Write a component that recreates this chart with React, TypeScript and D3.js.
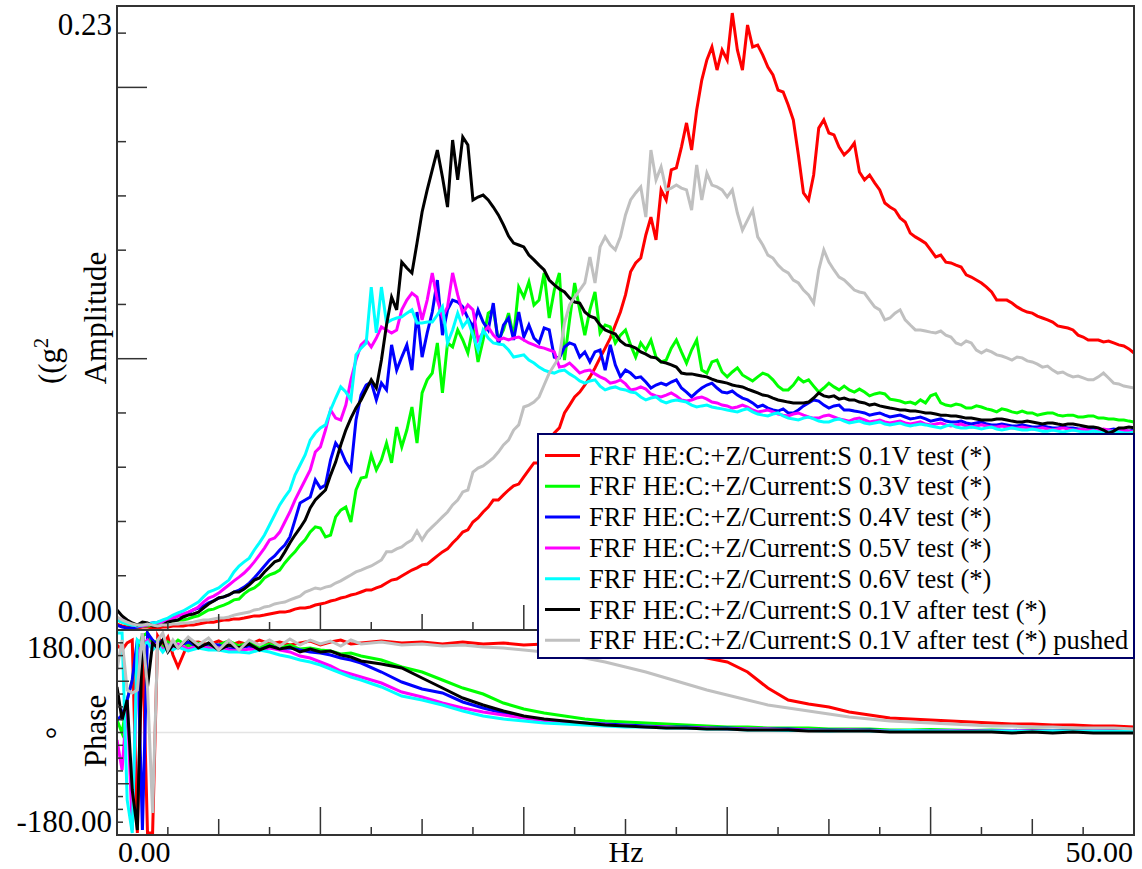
import React, { useEffect, useRef } from 'react';
import * as d3 from 'd3';

// frequency grids (Hz)
const freqAmp = d3.range(0, 50.125, 0.25);
const freqPhase = [0, 0.25, 0.5, 0.75, 1, 1.25, 1.5, 1.75, 2, 2.25, 2.5, 2.75, 3]
  .concat(d3.range(3.5, 12.25, 0.5))
  .concat(d3.range(13, 51, 1));

const seriesNames = [
  'FRF HE:C:+Z/Current:S 0.1V test (*)',
  'FRF HE:C:+Z/Current:S 0.3V test (*)',
  'FRF HE:C:+Z/Current:S 0.4V test (*)',
  'FRF HE:C:+Z/Current:S 0.5V test (*)',
  'FRF HE:C:+Z/Current:S 0.6V test (*)',
  'FRF HE:C:+Z/Current:S 0.1V after test (*)',
  'FRF HE:C:+Z/Current:S 0.1V after test (*) pushed',
];
const seriesColors = ['#ff0000', '#00ff00', '#0000ff', '#ff00ff', '#00ffff', '#000000', '#c0c0c0'];

// amplitude, one value every 0.25 Hz (each row = 2 Hz)
const ampRed = [
  0.0022, 0.0015, 0.0011, 0.0007, 0.0007, 0.0011, 0.0011, 0.0007,
  0.0007, 0.0011, 0.0011, 0.0015, 0.0015, 0.0015, 0.0018, 0.0018,
  0.0022, 0.0026, 0.0029, 0.0029, 0.0033, 0.0037, 0.0037, 0.0041,
  0.0041, 0.0044, 0.0048, 0.0052, 0.0052, 0.0055, 0.0059, 0.0063,
  0.0066, 0.0066, 0.007, 0.0077, 0.0081, 0.0081, 0.0085, 0.0092,
  0.0096, 0.01, 0.0107, 0.0111, 0.0118, 0.0122, 0.0129, 0.0133,
  0.014, 0.0147, 0.0147, 0.0155, 0.0162, 0.0173, 0.0184, 0.0188,
  0.0199, 0.021, 0.0221, 0.0229, 0.024, 0.0243, 0.0258, 0.0273,
  0.0288, 0.0299, 0.0321, 0.0339, 0.0361, 0.0369, 0.0398, 0.0413,
  0.0435, 0.0453, 0.0479, 0.0479, 0.0498, 0.0516, 0.0531, 0.0538,
  0.0564, 0.059, 0.0616, 0.0616, 0.0641, 0.07, 0.0726, 0.0745,
  0.08, 0.0829, 0.0859, 0.0877, 0.0903, 0.0933, 0.0966, 0.1003,
  0.1039, 0.1076, 0.1124, 0.1172, 0.1235, 0.132, 0.1353, 0.1371,
  0.1456, 0.1522, 0.1438, 0.1622, 0.1585, 0.1696, 0.1703, 0.178,
  0.1869, 0.1769, 0.1917, 0.2027, 0.2101, 0.2149, 0.2064, 0.2138,
  0.2101, 0.2274, 0.2138, 0.2064, 0.223, 0.2149, 0.2156, 0.2119,
  0.2075, 0.2046, 0.199, 0.1983, 0.1935, 0.188, 0.1751, 0.1611,
  0.1585, 0.1677, 0.185, 0.188, 0.1832, 0.1825, 0.178, 0.1751,
  0.1769, 0.1795, 0.1688, 0.1659, 0.1677, 0.1648, 0.1622, 0.1574,
  0.1559, 0.1548, 0.1519, 0.1504, 0.1463, 0.1449, 0.1438, 0.1426,
  0.1401, 0.1375, 0.1382, 0.1356, 0.1353, 0.1345, 0.1338, 0.1309,
  0.1301, 0.129, 0.1279, 0.1264, 0.1246, 0.1216, 0.1216, 0.1216,
  0.1205, 0.1191, 0.118, 0.1172, 0.1168, 0.1157, 0.115, 0.1143,
  0.1135, 0.1121, 0.1117, 0.1113, 0.1106, 0.1087, 0.108, 0.1069,
  0.1069, 0.1069, 0.1062, 0.1065, 0.1058, 0.1051, 0.1047, 0.1036,
  0.1021,
];
const ampGreen = [
  0.0037, 0.0029, 0.0022, 0.0015, 0.0011, 0.0015, 0.0015, 0.0018,
  0.0018, 0.0026, 0.0029, 0.0033, 0.0037, 0.0037, 0.0041, 0.0048,
  0.0052, 0.0063, 0.0074, 0.0077, 0.0085, 0.0092, 0.01, 0.0111,
  0.0114, 0.0133, 0.0147, 0.0155, 0.017, 0.0192, 0.0203, 0.021,
  0.0221, 0.0247, 0.0269, 0.0288, 0.0313, 0.0332, 0.0361, 0.038,
  0.0376, 0.0343, 0.035, 0.0417, 0.0442, 0.0453, 0.0398, 0.0516,
  0.056, 0.0564, 0.0645, 0.059, 0.0627, 0.0689, 0.0616, 0.0748,
  0.0675, 0.0737, 0.0822, 0.0689, 0.0874, 0.0922, 0.0947, 0.1058,
  0.0874, 0.1058, 0.1043, 0.1106, 0.1069, 0.1021, 0.1117, 0.0988,
  0.1069, 0.1168, 0.118, 0.1069, 0.1106, 0.1168, 0.108, 0.1264,
  0.1227, 0.1283, 0.1198, 0.1216, 0.1316, 0.115, 0.1253, 0.1316,
  0.0995, 0.1143, 0.1279, 0.118, 0.1087, 0.118, 0.1246, 0.1095,
  0.1124, 0.1117, 0.1058, 0.1087, 0.1106, 0.1051, 0.1006, 0.1058,
  0.1032, 0.1069, 0.1006, 0.0988, 0.0995, 0.1039, 0.1069, 0.1025,
  0.0984, 0.1032, 0.1069, 0.0958, 0.0947, 0.0988, 0.0995, 0.0951,
  0.0933, 0.0951, 0.0966, 0.094, 0.0929, 0.0918, 0.0933, 0.0947,
  0.094, 0.0922, 0.0899, 0.0885, 0.0885, 0.0903, 0.0929, 0.0914,
  0.0922, 0.0899, 0.0877, 0.0892, 0.091, 0.0896, 0.0885, 0.0899,
  0.0885, 0.0877, 0.0888, 0.0877, 0.0863, 0.087, 0.0874, 0.087,
  0.0851, 0.0848, 0.0844, 0.0837, 0.084, 0.0833, 0.0848, 0.0837,
  0.0863, 0.087, 0.0837, 0.0829, 0.0826, 0.0833, 0.0829, 0.0818,
  0.0818, 0.0826, 0.0822, 0.0815, 0.0811, 0.0804, 0.0815, 0.0811,
  0.0804, 0.08, 0.0807, 0.08, 0.08, 0.0792, 0.0796, 0.08,
  0.08, 0.0792, 0.0789, 0.0792, 0.0792, 0.0785, 0.0785, 0.0789,
  0.0789, 0.0781, 0.0781, 0.0778, 0.0778, 0.0774, 0.0774, 0.077,
  0.0767,
];
const ampBlue = [
  0.0018, 0.0011, 0.0007, 0.0007, 0.0011, 0.0015, 0.0022, 0.0026,
  0.0029, 0.0033, 0.0037, 0.0044, 0.0052, 0.0055, 0.0063, 0.0074,
  0.0081, 0.0088, 0.01, 0.0107, 0.0118, 0.0122, 0.0129, 0.014,
  0.0147, 0.0158, 0.0173, 0.0192, 0.0214, 0.0236, 0.0258, 0.0273,
  0.0295, 0.0313, 0.0343, 0.0405, 0.0468, 0.0479, 0.049, 0.0553,
  0.0523, 0.0534, 0.0627, 0.0689, 0.0663, 0.0619, 0.059, 0.0774,
  0.0866, 0.0903, 0.0914, 0.0848, 0.091, 0.0885, 0.1051, 0.0958,
  0.1006, 0.1051, 0.0958, 0.1172, 0.1006, 0.1095, 0.1172, 0.129,
  0.1087, 0.118, 0.1216, 0.1209, 0.1191, 0.115, 0.1117, 0.118,
  0.1135, 0.1106, 0.1205, 0.1051, 0.1124, 0.115, 0.1069, 0.1172,
  0.108, 0.1124, 0.1076, 0.1058, 0.1113, 0.1106, 0.1006, 0.1003,
  0.1043, 0.1058, 0.1051, 0.1006, 0.1025, 0.0988, 0.1025, 0.1032,
  0.0958, 0.1051, 0.0977, 0.0933, 0.0958, 0.0947, 0.0929, 0.0933,
  0.0914, 0.0892, 0.0903, 0.091, 0.0903, 0.0914, 0.0922, 0.0892,
  0.0877, 0.0859, 0.0877, 0.0892, 0.0903, 0.091, 0.0892, 0.0877,
  0.0874, 0.0881, 0.0866, 0.0855, 0.0848, 0.0837, 0.0822, 0.0829,
  0.0818, 0.0811, 0.0807, 0.0815, 0.08, 0.08, 0.0811, 0.0826,
  0.0837, 0.0848, 0.0844, 0.0829, 0.0818, 0.0826, 0.0829, 0.0811,
  0.0811, 0.0807, 0.0804, 0.08, 0.0792, 0.0796, 0.08, 0.0792,
  0.0785, 0.0789, 0.0792, 0.0785, 0.0778, 0.0781, 0.0785, 0.0778,
  0.077, 0.0774, 0.0778, 0.077, 0.0767, 0.0767, 0.077, 0.0763,
  0.0759, 0.0763, 0.0767, 0.0759, 0.0756, 0.0756, 0.0759, 0.0756,
  0.0752, 0.0752, 0.0756, 0.0752, 0.0748, 0.0748, 0.0752, 0.0748,
  0.0745, 0.0745, 0.0748, 0.0745, 0.0745, 0.0741, 0.0741, 0.0745,
  0.0745, 0.0741, 0.0737, 0.0737, 0.0741, 0.0737, 0.0737, 0.0733,
  0.0737,
];
const ampMagenta = [
  0.0044, 0.0037, 0.0029, 0.0018, 0.0015, 0.0015, 0.0018, 0.0022,
  0.0026, 0.0029, 0.0037, 0.0044, 0.0052, 0.0059, 0.0066, 0.0074,
  0.0085, 0.0103, 0.0118, 0.0125, 0.0136, 0.0151, 0.0166, 0.0181,
  0.0195, 0.021, 0.0229, 0.0251, 0.0276, 0.0302, 0.0332, 0.0339,
  0.0361, 0.0398, 0.0435, 0.0479, 0.0516, 0.0553, 0.059, 0.0656,
  0.0675, 0.0737, 0.0811, 0.0781, 0.0774, 0.0829, 0.0922, 0.0995,
  0.1051, 0.1069, 0.1043, 0.1076, 0.1117, 0.1106, 0.1095, 0.1106,
  0.118, 0.1216, 0.1242, 0.1227, 0.1143, 0.1216, 0.1316, 0.1216,
  0.1154, 0.1191, 0.1316, 0.1235, 0.1168, 0.1198, 0.118, 0.1069,
  0.1098, 0.1117, 0.1087, 0.1069, 0.1076, 0.1069, 0.1076, 0.108,
  0.1069, 0.1058, 0.1051, 0.1043, 0.1039, 0.1032, 0.1025, 0.0969,
  0.0973, 0.0984, 0.0966, 0.0947, 0.0955, 0.0958, 0.0944, 0.0933,
  0.0925, 0.091, 0.0914, 0.0922, 0.0907, 0.0885, 0.0888, 0.0896,
  0.0888, 0.087, 0.0863, 0.0859, 0.0866, 0.0874, 0.0863, 0.0848,
  0.0844, 0.0848, 0.0855, 0.0859, 0.0851, 0.084, 0.0837, 0.0829,
  0.0826, 0.0818, 0.0822, 0.0829, 0.0822, 0.0811, 0.0804, 0.0807,
  0.0811, 0.0804, 0.0796, 0.0792, 0.0789, 0.0796, 0.08, 0.0792,
  0.0785, 0.0781, 0.0781, 0.0789, 0.0792, 0.0785, 0.0778, 0.0774,
  0.077, 0.0778, 0.0781, 0.0774, 0.0767, 0.077, 0.0774, 0.0767,
  0.0763, 0.0767, 0.077, 0.0763, 0.0759, 0.0763, 0.0767, 0.0759,
  0.0756, 0.0759, 0.0763, 0.0756, 0.0752, 0.0756, 0.0759, 0.0752,
  0.0748, 0.0752, 0.0756, 0.0752, 0.0748, 0.0748, 0.0752, 0.0748,
  0.0745, 0.0745, 0.0748, 0.0745, 0.0741, 0.0741, 0.0745, 0.0741,
  0.0737, 0.0741, 0.0745, 0.0741, 0.0737, 0.0737, 0.0741, 0.0737,
  0.0733, 0.0737, 0.0741, 0.0737, 0.0733, 0.0733, 0.0737, 0.0733,
  0.0733,
];
const ampCyan = [
  0.0037, 0.0029, 0.0022, 0.0018, 0.0015, 0.0018, 0.0022, 0.0026,
  0.0029, 0.0037, 0.0044, 0.0055, 0.0063, 0.007, 0.0081, 0.0092,
  0.0103, 0.0122, 0.014, 0.0147, 0.0155, 0.017, 0.0184, 0.0214,
  0.0236, 0.0251, 0.0265, 0.0295, 0.0321, 0.035, 0.0387, 0.0424,
  0.0461, 0.049, 0.0516, 0.0571, 0.0608, 0.0645, 0.07, 0.0726,
  0.0745, 0.0756, 0.0811, 0.0855, 0.0896, 0.0877, 0.0848, 0.1014,
  0.1039, 0.1058, 0.1264, 0.1095, 0.1264, 0.1132, 0.1143, 0.115,
  0.1154, 0.1168, 0.118, 0.1132, 0.1132, 0.1135, 0.1135, 0.1161,
  0.1191, 0.1058, 0.1106, 0.1168, 0.1117, 0.1143, 0.1087, 0.1032,
  0.1106, 0.1076, 0.1058, 0.1054, 0.1051, 0.1032, 0.1006, 0.101,
  0.1014, 0.0995, 0.0984, 0.0969, 0.0958, 0.0951, 0.0947, 0.0955,
  0.0958, 0.0944, 0.0933, 0.0918, 0.091, 0.0918, 0.0922, 0.0899,
  0.0885, 0.0892, 0.0896, 0.0888, 0.0885, 0.0877, 0.0874, 0.0859,
  0.0848, 0.0855, 0.0859, 0.0844, 0.0837, 0.0844, 0.0848, 0.0844,
  0.084, 0.0829, 0.0822, 0.0826, 0.0829, 0.0822, 0.0818, 0.0815,
  0.0811, 0.0807, 0.0804, 0.0811, 0.0815, 0.0804, 0.0796, 0.0792,
  0.0789, 0.0796, 0.08, 0.0789, 0.0781, 0.0778, 0.0774, 0.0781,
  0.0785, 0.0778, 0.077, 0.0767, 0.0767, 0.0774, 0.0778, 0.077,
  0.0763, 0.0767, 0.077, 0.0763, 0.0759, 0.0763, 0.0767, 0.0759,
  0.0756, 0.0759, 0.0763, 0.0756, 0.0752, 0.0756, 0.0759, 0.0756,
  0.0752, 0.0748, 0.0745, 0.0752, 0.0756, 0.0748, 0.0745, 0.0745,
  0.0748, 0.0745, 0.0741, 0.0745, 0.0748, 0.0741, 0.0737, 0.0741,
  0.0745, 0.0741, 0.0737, 0.0737, 0.0741, 0.0737, 0.0733, 0.0733,
  0.0737, 0.0733, 0.073, 0.0733, 0.0737, 0.0733, 0.073, 0.073,
  0.0733, 0.073, 0.0726, 0.073, 0.0733, 0.073, 0.0726, 0.0726,
  0.073,
];
const ampBlack = [
  0.0074, 0.0052, 0.0037, 0.0026, 0.0018, 0.0029, 0.0026, 0.0015,
  0.0015, 0.0018, 0.0029, 0.0033, 0.0037, 0.0048, 0.0055, 0.0059,
  0.0066, 0.0081, 0.0096, 0.0107, 0.0118, 0.0122, 0.0129, 0.014,
  0.014, 0.0151, 0.0166, 0.0184, 0.0192, 0.0214, 0.0232, 0.0251,
  0.0258, 0.0288, 0.0321, 0.035, 0.0376, 0.0405, 0.045, 0.0479,
  0.0498, 0.0516, 0.0571, 0.0619, 0.0682, 0.0737, 0.0781, 0.0818,
  0.0848, 0.0885, 0.0922, 0.0892, 0.0995, 0.1124, 0.1227, 0.118,
  0.1356, 0.1334, 0.1316, 0.1426, 0.1541, 0.1622, 0.1696, 0.1769,
  0.167, 0.1559, 0.1806, 0.1659, 0.1817, 0.1788, 0.1585, 0.1596,
  0.1603, 0.1585, 0.1559, 0.153, 0.1493, 0.1452, 0.1426, 0.1419,
  0.1412, 0.1382, 0.1364, 0.1345, 0.1327, 0.129, 0.1272, 0.1257,
  0.1246, 0.1224, 0.1209, 0.1205, 0.1172, 0.1157, 0.115, 0.1124,
  0.1106, 0.1098, 0.1091, 0.1065, 0.1051, 0.1047, 0.1039, 0.1025,
  0.1017, 0.1006, 0.1003, 0.0988, 0.0984, 0.0977, 0.0969, 0.0947,
  0.0944, 0.0944, 0.094, 0.0936, 0.0933, 0.0925, 0.0918, 0.0914,
  0.091, 0.0903, 0.0899, 0.0896, 0.0888, 0.0881, 0.0874, 0.0866,
  0.0863, 0.0855, 0.0848, 0.0844, 0.084, 0.0837, 0.0837, 0.0837,
  0.084, 0.0855, 0.0874, 0.0863, 0.0859, 0.0863, 0.0851, 0.0855,
  0.0848, 0.0848, 0.084, 0.0837, 0.0829, 0.0833, 0.0826, 0.0822,
  0.0818, 0.0815, 0.0811, 0.0811, 0.0807, 0.0807, 0.0804, 0.08,
  0.08, 0.0796, 0.0792, 0.0792, 0.0789, 0.0789, 0.0785, 0.0781,
  0.0781, 0.0778, 0.0774, 0.0774, 0.0774, 0.0778, 0.0778, 0.0774,
  0.077, 0.0767, 0.0767, 0.077, 0.0767, 0.0763, 0.0759, 0.0763,
  0.0763, 0.0759, 0.0756, 0.0759, 0.0759, 0.0756, 0.0752, 0.0748,
  0.0748, 0.0745, 0.0737, 0.0726, 0.0733, 0.0745, 0.0745, 0.0748,
  0.0745,
];
const ampGray = [
  0.0048, 0.0037, 0.0029, 0.0022, 0.0018, 0.0018, 0.0022, 0.0018,
  0.0015, 0.0018, 0.0018, 0.0022, 0.0022, 0.0026, 0.0026, 0.0029,
  0.0033, 0.0037, 0.0037, 0.0041, 0.0044, 0.0044, 0.0048, 0.0055,
  0.0059, 0.0063, 0.0066, 0.0074, 0.0077, 0.0085, 0.0088, 0.0096,
  0.01, 0.0103, 0.0111, 0.0118, 0.0125, 0.014, 0.0147, 0.0155,
  0.0151, 0.0158, 0.0162, 0.0173, 0.0181, 0.0192, 0.0203, 0.0214,
  0.0221, 0.0229, 0.0236, 0.0247, 0.0258, 0.0288, 0.0288, 0.0299,
  0.0306, 0.0321, 0.0332, 0.0365, 0.0332, 0.0361, 0.038, 0.0398,
  0.0417, 0.0435, 0.0461, 0.0479, 0.0509, 0.0516, 0.0582, 0.0597,
  0.0605, 0.0619, 0.0634, 0.0656, 0.0682, 0.07, 0.0737, 0.0756,
  0.0822, 0.0829, 0.084, 0.0859, 0.0903, 0.0947, 0.0977, 0.1006,
  0.1132, 0.1198, 0.1227, 0.1253, 0.1279, 0.1375, 0.1279, 0.1412,
  0.1449, 0.1419, 0.1401, 0.1449, 0.153, 0.1585, 0.1611, 0.1633,
  0.1522, 0.1769, 0.1659, 0.1707, 0.1622, 0.1629, 0.164, 0.1629,
  0.1622, 0.1548, 0.1714, 0.1585, 0.1684, 0.164, 0.1633, 0.1622,
  0.1596, 0.1622, 0.1537, 0.1474, 0.1511, 0.1548, 0.1449, 0.1419,
  0.1382, 0.1371, 0.1345, 0.1327, 0.1316, 0.129, 0.1279, 0.1253,
  0.1235, 0.1205, 0.1327, 0.1401, 0.1356, 0.1327, 0.1301, 0.129,
  0.1272, 0.1253, 0.1246, 0.1242, 0.1216, 0.1191, 0.118, 0.1143,
  0.115, 0.1168, 0.118, 0.1143, 0.1124, 0.1106, 0.1106, 0.1102,
  0.1098, 0.1095, 0.1102, 0.1087, 0.108, 0.1058, 0.1051, 0.1065,
  0.1058, 0.1032, 0.1021, 0.1032, 0.1025, 0.1014, 0.101, 0.1003,
  0.0995, 0.1006, 0.1003, 0.0992, 0.0988, 0.098, 0.0969, 0.0973,
  0.0958, 0.0947, 0.0951, 0.094, 0.0933, 0.0936, 0.0929, 0.0922,
  0.0922, 0.0933, 0.0947, 0.0929, 0.091, 0.0907, 0.0899, 0.0896,
  0.0892,
];

// phase in degrees, on freqPhase (0-3 Hz by 0.25, 3.5-12 Hz by 0.5, 13-50 Hz by 1)
const phRed = [
  153.7, 144.9, 157.2, 162.4, -176.5, 162.4, -176.5, -176.5, 169.5, 153.7, 167.7, 136.1, 115.0,
  157.2, 158.9, 153.7, 160.7, 151.9, 158.9, 153.7, 162.4, 155.4, 158.9, 153.7, 157.2, 160.7, 153.7, 158.9, 162.4, 155.4, 157.2,
  160.7, 157.2, 158.9, 155.4, 158.9, 155.4, 157.2, 153.7, 155.4, 151.9, 153.7, 148.4, 148.4, 144.9, 141.4, 136.1, 130.8, 123.8, 106.2,
  78.1, 57.1, 50.0, 44.8, 36.0, 30.7, 25.5, 23.7, 22.0, 20.2, 18.4, 16.7, 14.9, 14.9, 13.2, 13.2, 11.4, 11.4, 9.7,
];
const phGreen = [
  22.0, -0.9, 57.1, 92.2, 144.9, 169.5, 174.7, 153.7, 162.4, 148.4, 158.9, 153.7, 162.4,
  151.9, 157.2, 150.1, 153.7, 160.7, 151.9, 158.9, 150.1, 155.4, 148.4, 153.7, 146.6, 148.4, 144.9, 143.1, 137.9, 139.6, 134.3,
  127.3, 115.0, 106.2, 92.2, 78.1, 67.6, 51.8, 41.3, 34.2, 29.0, 23.7, 20.2, 18.4, 16.7, 14.9, 13.2, 11.4, 9.7, 9.7,
  7.9, 7.9, 7.9, 6.1, 6.1, 6.1, 4.4, 4.4, 5.3, 4.4, 3.5, 4.4, 3.5, 4.4, 3.5, 3.5, 4.4, 3.5, 3.5,
];
const phBlue = [
  22.0, 30.7, 57.1, 92.2, 162.4, -171.2, 174.7, 162.4, 153.7, 162.4, 148.4, 157.2, 151.9,
  158.9, 150.1, 155.4, 153.7, 146.6, 148.4, 151.9, 144.9, 151.9, 146.6, 148.4, 144.9, 141.4, 139.6, 136.1, 130.8, 127.3, 122.0,
  106.2, 88.7, 76.4, 69.4, 53.6, 43.0, 34.2, 27.2, 22.0, 18.4, 16.7, 14.9, 13.2, 11.4, 9.7, 9.7, 7.9, 7.9, 6.1,
  6.1, 6.1, 4.4, 4.4, 4.4, 4.4, 2.6, 3.5, 2.6, 3.5, 2.6, 2.6, 3.5, 2.6, 2.6, 2.6, 3.5, 2.6, 2.6,
];
const phMagenta = [
  -13.2, -65.9, 57.1, -171.2, 136.1, 153.7, 162.4, 148.4, 157.2, 144.9, 153.7, 148.4, 155.4,
  146.6, 151.9, 148.4, 148.4, 144.9, 143.1, 146.6, 144.9, 148.4, 144.9, 141.4, 134.3, 130.8, 123.8, 116.8, 108.0, 102.7, 97.5,
  86.9, 71.1, 62.3, 51.8, 43.0, 36.0, 30.7, 25.5, 20.2, 16.7, 14.9, 13.2, 11.4, 9.7, 9.7, 7.9, 7.9, 6.1, 6.1,
  6.1, 4.4, 4.4, 3.5, 4.4, 3.5, 2.6, 3.5, 2.6, 3.5, 2.6, 2.6, 3.5, 2.6, 2.6, 1.8, 2.6, 2.6, 1.8,
];
const phCyan = [
  174.7, 174.7, -118.5, -176.5, 162.4, 153.7, 158.9, 144.9, 153.7, 141.4, 151.9, 144.9, 150.1,
  143.1, 148.4, 144.9, 144.9, 141.4, 141.4, 139.6, 144.9, 141.4, 136.1, 132.6, 127.3, 123.8, 118.5, 111.5, 104.5, 97.5, 92.2,
  79.9, 64.1, 57.1, 48.3, 37.8, 29.0, 23.7, 20.2, 16.7, 14.9, 13.2, 11.4, 9.7, 9.7, 7.9, 7.9, 6.1, 6.1, 4.4,
  4.4, 3.5, 3.5, 2.6, 3.5, 2.6, 2.6, 3.5, 2.6, 2.6, 1.8, 2.6, 2.6, 1.8, 2.6, 1.8, 2.6, 1.8, 1.8,
];
const phBlack = [
  79.9, 22.0, 57.1, -101.0, -171.2, 174.7, 79.9, 157.2, 148.4, 162.4, 141.4, 153.7, 148.4,
  165.9, 148.4, 157.2, 144.9, 153.7, 148.4, 155.4, 144.9, 151.9, 146.6, 150.1, 141.4, 146.6, 141.4, 143.1, 136.1, 132.6, 125.6,
  120.3, 113.3, 95.7, 78.1, 60.6, 48.3, 37.8, 29.0, 23.7, 20.2, 16.7, 13.2, 11.4, 9.7, 7.9, 7.9, 6.1, 6.1, 4.4,
  4.4, 4.4, 2.6, 2.6, 2.6, 2.6, 0.9, 0.9, 0.9, 0.9, 0.9, 0.9, -0.9, 0.9, -0.9, 0.9, -0.9, -0.9, -0.9,
];
const phGray = [
  109.8, 162.4, 74.6, 69.4, 74.6, 174.7, 79.9, -141.4, 162.4, 174.7, 144.9, 162.4, 148.4,
  167.7, 153.7, 165.9, 144.9, 162.4, 144.9, 162.4, 153.7, 162.4, 151.9, 164.2, 153.7, 162.4, 155.4, 160.7, 151.9, 162.4, 155.4,
  158.9, 153.7, 155.4, 151.9, 153.7, 150.1, 148.4, 144.9, 141.4, 136.1, 130.8, 123.8, 115.0, 106.2, 95.7, 85.2, 74.6, 65.9, 57.1,
  48.3, 43.0, 37.8, 32.5, 27.2, 23.7, 20.2, 18.4, 16.7, 14.9, 13.2, 11.4, 11.4, 9.7, 9.7, 7.9, 7.9, 7.9, 6.1,
];

const ampSeries = [ampRed, ampGreen, ampBlue, ampMagenta, ampCyan, ampBlack, ampGray];
const phaseSeries = [phRed, phGreen, phBlue, phMagenta, phCyan, phBlack, phGray];

const FONT = '"Liberation Serif", "Times New Roman", serif';

const App = () => {
  const svgRef = useRef(null);

  useEffect(() => {
    const width = 1142, height = 869;
    const left = 117, right = 1134, top = 6, mid = 630, bottom = 835;

    const svg = d3.select(svgRef.current);
    svg.selectAll('*').remove();
    svg.attr('width', width).attr('height', height);

    const x = d3.scaleLinear().domain([0, 50]).range([left, right]);
    const yAmp = d3.scaleLinear().domain([0, 0.23]).range([mid, top]);
    const yPh = d3.scaleLinear().domain([-180, 180]).range([bottom, mid]);

    const defs = svg.append('defs');
    defs.append('clipPath').attr('id', 'clipAmp')
      .append('rect').attr('x', left).attr('y', top).attr('width', right - left).attr('height', mid - top);
    defs.append('clipPath').attr('id', 'clipPh')
      .append('rect').attr('x', left).attr('y', mid).attr('width', right - left).attr('height', bottom - mid);

    // zero line of the phase panel
    svg.append('line')
      .attr('x1', left).attr('x2', right)
      .attr('y1', yPh(0)).attr('y2', yPh(0))
      .attr('stroke', '#e4e4e4').attr('stroke-width', 1.5);

    // curves
    const ampLine = d3.line().x((d) => x(d[0])).y((d) => yAmp(d[1]));
    const phLine = d3.line().x((d) => x(d[0])).y((d) => yPh(d[1]));
    const pairs = (fs, vals) => vals.map((v, k) => [fs[k], v]).filter((d) => d[0] !== undefined);

    const gAmp = svg.append('g').attr('clip-path', 'url(#clipAmp)');
    ampSeries.forEach((vals, i) => {
      gAmp.append('path')
        .attr('d', ampLine(pairs(freqAmp, vals)))
        .attr('fill', 'none')
        .attr('stroke', seriesColors[i])
        .attr('stroke-width', 3);
    });

    const gPh = svg.append('g').attr('clip-path', 'url(#clipPh)');
    phaseSeries.forEach((vals, i) => {
      gPh.append('path')
        .attr('d', phLine(pairs(freqPhase, vals)))
        .attr('fill', 'none')
        .attr('stroke', seriesColors[i])
        .attr('stroke-width', 3);
    });

    const axisColor = '#333';

    // left ticks, amplitude
    const ampTicks = d3.range(0.02, 0.225, 0.02);
    svg.selectAll('.ampTick').data(ampTicks).enter().append('line')
      .attr('x1', left)
      .attr('x2', (d) => (Math.abs(d - 0.1) < 1e-6 || Math.abs(d - 0.2) < 1e-6 ? left + 30 : left + 9))
      .attr('y1', (d) => yAmp(d)).attr('y2', (d) => yAmp(d))
      .attr('stroke', axisColor).attr('stroke-width', 1.5);

    // left ticks, phase
    const phTicks = d3.range(-157.5, 180, 22.5);
    svg.selectAll('.phTick').data(phTicks).enter().append('line')
      .attr('x1', left)
      .attr('x2', (d) => (Math.abs(Math.abs(d) - 90) < 1e-6 ? left + 12 : left + 6))
      .attr('y1', (d) => yPh(d)).attr('y2', (d) => yPh(d))
      .attr('stroke', axisColor).attr('stroke-width', 1.5);

    // frequency ticks on the bottom axis and the panel divider
    const xTicks = d3.range(2.5, 50, 2.5);
    const tickLen = (d, big) => {
      if (d % 10 === 0) return big;
      if (d % 5 === 0) return 16;
      return 8;
    };
    [[bottom, 28], [mid, 25]].forEach(([yBase, big]) => {
      svg.append('g').selectAll('line').data(xTicks).enter().append('line')
        .attr('x1', (d) => x(d)).attr('x2', (d) => x(d))
        .attr('y1', yBase).attr('y2', (d) => yBase - tickLen(d, big))
        .attr('stroke', axisColor).attr('stroke-width', 1.5);
    });

    // frame
    svg.append('rect')
      .attr('x', left).attr('y', top)
      .attr('width', right - left).attr('height', bottom - top)
      .attr('fill', 'none').attr('stroke', axisColor).attr('stroke-width', 2);
    svg.append('line')
      .attr('x1', left).attr('x2', right).attr('y1', mid).attr('y2', mid)
      .attr('stroke', axisColor).attr('stroke-width', 2);

    // tick labels
    const label = (txt, lx, ly, anchor, size = 31) => svg.append('text')
      .attr('x', lx).attr('y', ly)
      .attr('text-anchor', anchor)
      .attr('font-family', FONT).attr('font-size', size)
      .attr('fill', '#000')
      .text(txt);
    label('0.23', 112, 35, 'end');
    label('0.00', 112, 622, 'end');
    label('180.00', 112, 658, 'end');
    label('-180.00', 112, 832, 'end');
    label('0.00', 118, 862, 'start', 30);
    label('Hz', 626, 862, 'middle', 30);
    label('50.00', 1133, 862, 'end', 30);

    // rotated axis titles
    const vlabel = (lx, ly) => svg.append('text')
      .attr('transform', `translate(${lx},${ly}) rotate(-90)`)
      .attr('text-anchor', 'middle')
      .attr('font-family', FONT).attr('font-size', 31)
      .attr('fill', '#000');
    vlabel(106, 318).text('Amplitude');
    vlabel(106, 731).text('Phase');
    const unit = vlabel(60, 361);
    unit.append('tspan').text('((g');
    unit.append('tspan').attr('font-size', 20).attr('dy', -12).text('2');
    vlabel(68, 733).text('°');

    // legend
    const lg = svg.append('g');
    lg.append('rect')
      .attr('x', 538).attr('y', 434).attr('width', 596).attr('height', 224)
      .attr('fill', '#fff').attr('stroke', '#000066').attr('stroke-width', 2);
    seriesNames.forEach((name, i) => {
      const cy = 455.5 + i * 30.8;
      lg.append('line')
        .attr('x1', 545).attr('x2', 580).attr('y1', cy).attr('y2', cy)
        .attr('stroke', seriesColors[i]).attr('stroke-width', 3);
      lg.append('text')
        .attr('x', 589).attr('y', cy + 9)
        .attr('font-family', FONT).attr('font-size', 26.5)
        .attr('fill', '#000')
        .text(name);
    });
  }, []);

  return (
    <svg ref={svgRef} style={{ position: 'absolute', left: 0, top: 0 }} />
  );
};

export default App;
